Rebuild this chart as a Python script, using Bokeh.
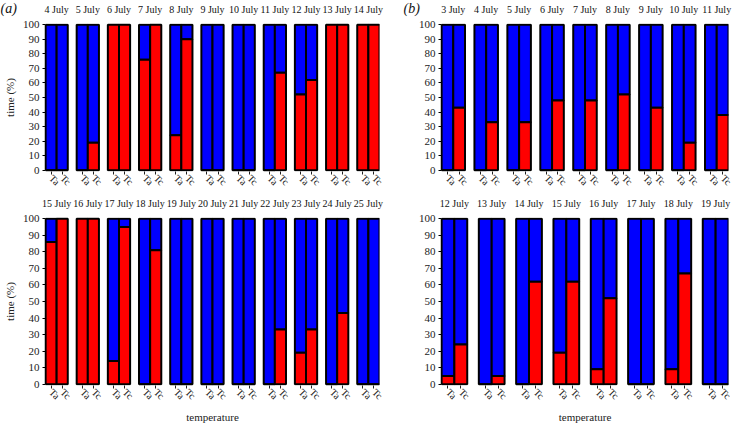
import math
from bokeh.plotting import figure
from bokeh.models import FactorRange, CategoricalAxis, Label, ColumnDataSource, Range1d, FixedTicker
from bokeh.layouts import column, row
from bokeh.embed import file_html
from bokeh.resources import INLINE

temps = ["Ta", "Tc"]
y_ticks = [0, 10, 20, 30, 40, 50, 60, 70, 80, 90, 100]

a_top_days = ["4 July", "5 July", "6 July", "7 July", "8 July", "9 July",
              "10 July", "11 July", "12 July", "13 July", "14 July"]
a_top_ta = [0, 0, 100, 76, 24, 0, 0, 0, 52, 100, 100]
a_top_tc = [0, 19, 100, 100, 90, 0, 0, 67, 62, 100, 100]

a_bot_days = ["15 July", "16 July", "17 July", "18 July", "19 July", "20 July",
              "21 July", "22 July", "23 July", "24 July", "25 July"]
a_bot_ta = [86, 100, 14, 0, 0, 0, 0, 0, 19, 0, 0]
a_bot_tc = [100, 100, 95, 81, 0, 0, 0, 33, 33, 43, 0]

b_top_days = ["3 July", "4 July", "5 July", "6 July", "7 July", "8 July",
              "9 July", "10 July", "11 July"]
b_top_ta = [0, 0, 0, 0, 0, 0, 0, 0, 0]
b_top_tc = [43, 33, 33, 48, 48, 52, 43, 19, 38]

b_bot_days = ["12 July", "13 July", "14 July", "15 July", "16 July", "17 July",
              "18 July", "19 July"]
b_bot_ta = [5, 0, 0, 19, 9, 0, 9, 0]
b_bot_tc = [24, 5, 62, 62, 52, 0, 67, 0]

SERIF = "Liberation Serif"
RED = "#ff0000"
BLUE = "#0000ff"
INK = "#222222"


def panel(days, ta, tc, gpad, fw, fh, bl, bt, bb, br, ylabel=None, xlabel=None, tag=None):
    factors = [(d, t) for d in days for t in temps]
    red = [v for pair in zip(ta, tc) for v in pair]
    n = len(factors)
    src = ColumnDataSource(dict(x=factors, red=red, zero=[0] * n, full=[100] * n))
    p = figure(x_range=FactorRange(*factors, group_padding=gpad, range_padding=0),
               y_range=Range1d(-0.8, 100.8),
               frame_width=fw, frame_height=fh,
               min_border_left=bl, min_border_top=bt, min_border_bottom=bb, min_border_right=br,
               output_backend="svg", toolbar_location=None)
    # flat range of days aligned with the nested groups, for the day labels above
    p.extra_x_ranges = {"days": FactorRange(*days, factor_padding=gpad / 2, range_padding=0)}
    p.vbar(x="x", bottom="red", top="full", width=1.0, fill_color=BLUE,
           line_color="black", line_width=2, source=src)
    p.vbar(x="x", bottom="zero", top="red", width=1.0, fill_color=RED,
           line_color="black", line_width=2, source=src)
    p.outline_line_color = None
    p.xgrid.grid_line_color = None
    p.ygrid.grid_line_color = None

    xa = p.xaxis[0]
    xa.major_label_orientation = -math.pi / 4
    xa.major_label_text_font = SERIF
    xa.major_label_text_font_size = "10px"
    xa.major_label_text_color = INK
    xa.major_label_standoff = 2
    xa.group_text_color = None
    xa.group_text_font_size = "1px"
    xa.subgroup_text_color = None
    xa.subgroup_text_font_size = "1px"
    xa.separator_line_color = None
    xa.axis_line_color = None
    xa.major_tick_in = 0
    xa.major_tick_out = 3
    xa.major_tick_line_color = INK
    if xlabel:
        xa.axis_label = xlabel
        xa.axis_label_text_font = SERIF
        xa.axis_label_text_font_size = "11px"
        xa.axis_label_text_font_style = "normal"
        xa.axis_label_text_color = INK
        xa.axis_label_standoff = 3

    top = CategoricalAxis(x_range_name="days")
    top.major_label_text_font = SERIF
    top.major_label_text_font_size = "10px"
    top.major_label_text_color = "#111111"
    top.major_label_standoff = 3
    top.major_tick_line_color = None
    top.minor_tick_line_color = None
    top.axis_line_color = None
    top.separator_line_color = None
    p.add_layout(top, "above")

    ya = p.yaxis[0]
    ya.ticker = FixedTicker(ticks=y_ticks)
    ya.bounds = (0, 100)
    ya.minor_tick_line_color = None
    ya.major_tick_in = 0
    ya.major_tick_out = 3
    ya.axis_line_width = 1.5
    ya.major_label_text_font = SERIF
    ya.major_label_text_font_size = "11px"
    ya.major_label_text_color = INK
    ya.major_label_standoff = 3
    if ylabel:
        ya.axis_label = ylabel
        ya.axis_label_text_font = SERIF
        ya.axis_label_text_font_size = "11px"
        ya.axis_label_text_font_style = "normal"
        ya.axis_label_text_color = INK
        ya.axis_label_standoff = 4

    if tag:
        # a side-panel label is not clipped to the frame; it is drawn in canvas units
        # at the figure's top-left corner, its band using the space between the panels
        text, x, side = tag
        p.add_layout(Label(x=x, y=0, x_units="canvas", y_units="canvas", text=text,
                           text_font=SERIF, text_font_style="italic", text_font_size="14px",
                           text_baseline="top", text_color="#111111"), side)
    return p


pa_top = panel(a_top_days, a_top_ta, a_top_tc, 0.8, 334, 148, 30, 16, 20, 20,
               ylabel="time (%)", tag=("(a)", 0, "right"))
pb_top = panel(b_top_days, b_top_ta, b_top_tc, 0.8, 287, 148, 42, 16, 20, 5,
               tag=("(b)", 4, "left"))
pa_bot = panel(a_bot_days, a_bot_ta, a_bot_tc, 0.8, 334, 168, 30, 16, 30, 20,
               ylabel="time (%)", xlabel="temperature")
pb_bot = panel(b_bot_days, b_bot_ta, b_bot_tc, 0.9, 287, 168, 42, 16, 30, 5,
               xlabel="temperature")

layout = column(row(pa_top, pb_top), row(pa_bot, pb_bot))
open("out.html", "w").write(file_html(layout, INLINE))
